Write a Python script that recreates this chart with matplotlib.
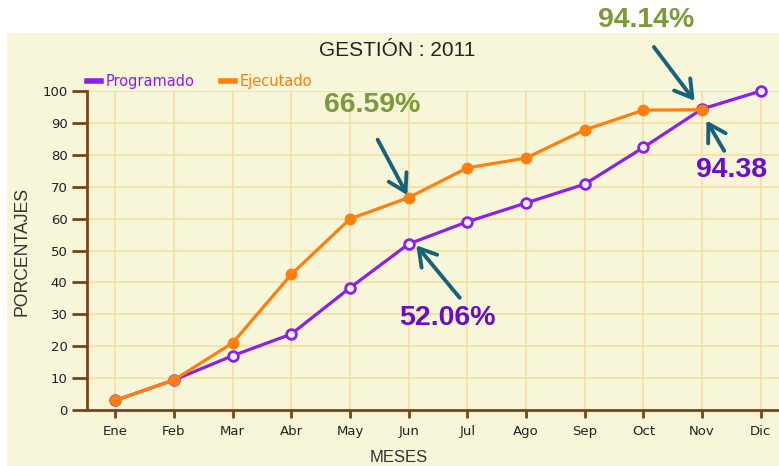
import matplotlib.pyplot as plt
from matplotlib.patches import Rectangle

# data
meses = ["Ene", "Feb", "Mar", "Abr", "May", "Jun", "Jul", "Ago", "Sep", "Oct", "Nov", "Dic"]
programado = [3.0, 9.4, 17.0, 23.8, 38.3, 52.06, 59.0, 64.9, 70.8, 82.3, 94.38, 100.0]
ejecutado = [3.0, 9.4, 21.0, 42.5, 59.9, 66.59, 75.9, 79.0, 87.8, 94.0, 94.14]

morado = "#8A1FEF"
naranja = "#FF7F0A"
cafe = "#7A4418"
fondo = "#F8F6D9"
rejilla = "#F5DFA6"
flecha = "#17627A"
oliva = "#7B9A3B"
morado_txt = "#6A0CCB"

fig = plt.figure(figsize=(7.79, 4.66), dpi=100)
fig.patch.set_facecolor("white")
fig.add_artist(Rectangle((7 / 779, 0), 1, (466 - 33) / 466, transform=fig.transFigure,
                         facecolor=fondo, edgecolor="none", zorder=-10))

ax = fig.add_axes([87 / 779, 56 / 466, 692 / 779, 319 / 466])
ax.set_facecolor(fondo)
x = list(range(len(meses)))

ax.plot(x, programado, color=morado, lw=2.3, marker="o", ms=7, mfc="#FBF7FF", mec=morado,
        mew=2, label="Programado", zorder=3, clip_on=False)
ax.plot(x[:len(ejecutado)], ejecutado, color=naranja, lw=2.3, marker="o", ms=7.5,
        mfc=naranja, mec=naranja, label="Ejecutado", zorder=4, clip_on=False)

ax.set_xlim(-0.48, 11.31)
ax.set_ylim(0, 100)
ax.set_xticks(x)
ax.set_xticklabels(meses)
ax.set_yticks(range(0, 101, 10))
ax.grid(True, color=rejilla, lw=1.3, zorder=0)
ax.set_axisbelow(True)

for s in ["top", "right"]:
    ax.spines[s].set_visible(False)
for s in ["left", "bottom"]:
    ax.spines[s].set_color(cafe)
    ax.spines[s].set_linewidth(2)
ax.tick_params(axis="y", length=11, width=2, color=cafe, labelsize=9.5, labelcolor="#222222", pad=3)
ax.tick_params(axis="x", length=6, width=2, color=cafe, labelsize=9.5, labelcolor="#222222", pad=5)

etiq = dict(family="Liberation Sans", color="#333333")
fig.text(22 / 779, 1 - 252 / 466, "PORCENTAJES", rotation=90, ha="center", va="center",
         fontsize=12.7, **etiq)
fig.text(399 / 779, 1 - 457 / 466, "MESES", ha="center", va="center", fontsize=12, **etiq)
fig.text(397 / 779, 1 - 50 / 466, "GESTIÓN : 2011", ha="center", va="center",
         fontsize=15, family="Liberation Sans", color="#222222")

leg = ax.legend(loc="lower left", bbox_to_anchor=(-0.013, 0.978), ncol=2, frameon=False,
                handlelength=1.0, handletextpad=0.3, columnspacing=1.8, fontsize=10.5,
                labelcolor="linecolor", borderaxespad=0.2)
for h in leg.legend_handles:
    h.set_marker("")
    h.set_linewidth(4)

# anotaciones
bold = dict(fontsize=20.5, fontweight="bold", family="Liberation Sans")
arr = dict(arrowstyle="->, head_length=0.55, head_width=0.33", color=flecha, lw=2.8,
           mutation_scale=22)
ax.annotate("", xy=(5, 66.59), xytext=(4.45, 85.5), arrowprops=arr, annotation_clip=False)
ax.text(4.38, 95.5, "66.59%", color=oliva, ha="center", va="center", **bold)
ax.annotate("", xy=(5.1, 52.3), xytext=(5.9, 34.5), arrowprops=arr, annotation_clip=False)
ax.text(5.66, 28.8, "52.06%", color=morado_txt, ha="center", va="center", **bold)
ax.annotate("", xy=(9.9, 96.2), xytext=(9.15, 114.5), arrowprops=arr, annotation_clip=False)
ax.text(9.05, 122.3, "94.14%", color=oliva, ha="center", va="center", clip_on=False, **bold)
ax.annotate("", xy=(10.05, 91.5), xytext=(10.4, 80.5), arrowprops=arr, annotation_clip=False)
ax.text(10.5, 75.3, "94.38", color=morado_txt, ha="center", va="center", **bold)

fig.savefig("out.png", dpi=100)
